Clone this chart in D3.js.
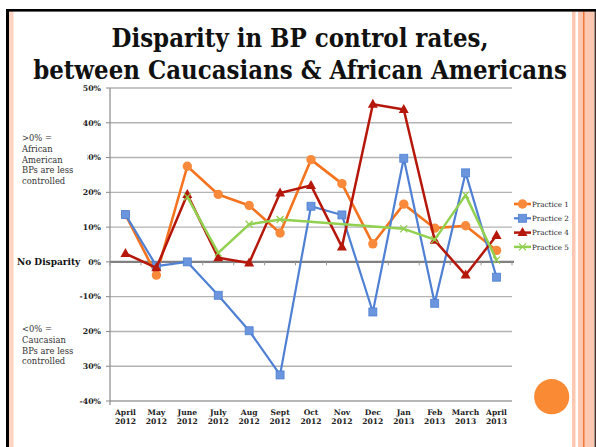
<!DOCTYPE html>
<html>
<head>
<meta charset="utf-8">
<script src="https://cdn.jsdelivr.net/npm/d3@7"></script>
<style>
  html, body { margin: 0; padding: 0; background: #fff; }
  svg { display: block; }
</style>
</head>
<body>
<svg id="chart" width="596" height="447"></svg>
<script>
// Months on the x axis (two-line labels)
const months = ["April 2012", "May 2012", "June 2012", "July 2012", "Aug 2012", "Sept 2012",
                "Oct 2012", "Nov 2012", "Dec 2012", "Jan 2013", "Feb 2013", "March 2013", "April 2013"];

// Disparity (%) per practice; null = no report that month
const practice1 = [13.6, -3.8, 27.5, 19.4, 16.2, 8.3, 29.4, 22.5, 5.2, 16.6, 9.7, 10.4, 3.3];
const practice2 = [13.6, -1.2, 0.0, -9.6, -19.8, -32.5, 16.0, 13.5, -14.4, 29.8, -11.9, 25.6, -4.4];
const practice4 = [2.4, -1.7, 19.4, 1.2, -0.3, 19.8, 22.0, 4.3, 45.3, 43.8, 6.2, -3.8, 7.6];
const practice5 = [null, null, 18.7, 2.6, 10.8, 12.2, null, null, null, 9.5, 6.4, 19.2, 0.5];

const yTicks = [50, 40, 30, 20, 10, 0, -10, -20, -30, -40];
const yTickLabels = ["50%", "40%", "30%", "20%", "10%", "0%", "-10%", "-20%", "-30%", "-40%"];

const seriesNames = ["Practice 1", "Practice 2", "Practice 4", "Practice 5"];

const svg = d3.select("#chart");
const serif = "'DejaVu Serif', 'Liberation Serif', serif";
const serifCond = "'DejaVu Serif Condensed', 'DejaVu Serif', serif";

// ---- slide frame ----
const frame = svg.append("g");
frame.append("rect").attr("x", 9).attr("y", 11).attr("width", 4.5).attr("height", 436).attr("fill", "#fdd3c4");
frame.append("rect").attr("x", 572).attr("y", 11).attr("width", 3.5).attr("height", 436).attr("fill", "#fdc8b2");
frame.append("rect").attr("x", 578).attr("y", 11).attr("width", 16).attr("height", 436).attr("fill", "#fdc8b2");
frame.append("rect").attr("x", 583).attr("y", 11).attr("width", 1.5).attr("height", 436).attr("fill", "#f07a35");
frame.append("rect").attr("x", 594.5).attr("y", 11).attr("width", 1.5).attr("height", 436).attr("fill", "#4a3228");
frame.append("rect").attr("x", 6).attr("y", 9).attr("width", 590).attr("height", 2.6).attr("fill", "#000");
frame.append("rect").attr("x", 6).attr("y", 9).attr("width", 3).attr("height", 438).attr("fill", "#000");

// ---- title: two centred lines, size fitted so the long line spans 534px ----
const titleLines = ["Disparity in BP control rates,", "between Caucasians & African Americans"];
const titleBaselines = [46.5, 78.5];
const title = svg.append("g");
const titleTexts = titleLines.map((line, i) =>
  title.append("text")
    .attr("x", 300).attr("y", titleBaselines[i]).attr("text-anchor", "middle")
    .attr("font-family", serifCond).attr("font-stretch", "condensed")
    .attr("font-weight", "bold").attr("font-size", 24).attr("fill", "#111")
    .text(line));
const titleSize = Math.min(26, 24 * 534 / titleTexts[1].node().getComputedTextLength());
titleTexts.forEach(t => t.attr("font-size", titleSize));

// ---- scales ----
const plot = { left: 110, right: 512, top: 88, bottom: 401 };
const x = d3.scaleBand().domain(months).range([plot.left, plot.right]).padding(0);
const cx = m => x(m) + x.bandwidth() / 2;
const y = d3.scaleLinear().domain([-40, 50]).range([plot.bottom, plot.top]);

// ---- gridlines ----
const grid = svg.append("g");
grid.selectAll("line.g").data(yTicks.filter(v => v !== 0 && v !== -40)).enter().append("line")
  .attr("x1", plot.left).attr("x2", plot.right)
  .attr("y1", d => y(d)).attr("y2", d => y(d))
  .attr("stroke", "#b3b3b3").attr("stroke-width", 1.4);
// y tick marks
grid.selectAll("line.t").data(yTicks).enter().append("line")
  .attr("x1", plot.left - 4).attr("x2", plot.left)
  .attr("y1", d => y(d)).attr("y2", d => y(d))
  .attr("stroke", "#888").attr("stroke-width", 1);
// bottom line at -40%
grid.append("line").attr("x1", plot.left).attr("x2", plot.right)
  .attr("y1", y(-40)).attr("y2", y(-40)).attr("stroke", "#a0a0a0").attr("stroke-width", 1.4);
// y axis line
grid.append("line").attr("x1", plot.left).attr("x2", plot.left)
  .attr("y1", plot.top).attr("y2", plot.bottom + 4).attr("stroke", "#8a8a8a").attr("stroke-width", 1.2);
// zero line with category ticks
grid.append("line").attr("x1", plot.left).attr("x2", plot.right + 2)
  .attr("y1", y(0)).attr("y2", y(0)).attr("stroke", "#808080").attr("stroke-width", 2.4);
grid.selectAll("line.xt").data(months.concat(["end"])).enter().append("line")
  .attr("x1", (d, i) => plot.left + i * x.bandwidth())
  .attr("x2", (d, i) => plot.left + i * x.bandwidth())
  .attr("y1", y(0)).attr("y2", y(0) + 3.5)
  .attr("stroke", "#999").attr("stroke-width", 1);

// ---- y tick labels ----
svg.append("g").selectAll("text").data(yTicks).enter().append("text")
  .attr("x", 101).attr("y", d => y(d) + 2.8)
  .attr("text-anchor", "end").attr("font-family", serif).attr("font-weight", "bold")
  .attr("font-size", 7.8).attr("fill", "#222")
  .text((d, i) => yTickLabels[i]);

// ---- x labels ----
const xl = svg.append("g");
months.forEach(m => {
  const [mo, yr] = m.split(" ");
  const t = xl.append("text").attr("x", cx(m)).attr("y", 414.5).attr("text-anchor", "middle")
    .attr("font-family", serif).attr("font-weight", "bold").attr("font-size", 7.6).attr("fill", "#222");
  t.append("tspan").attr("x", cx(m)).attr("dy", 0).text(mo);
  t.append("tspan").attr("x", cx(m)).attr("dy", 9).text(yr);
});

// ---- side annotations (text boxes) ----
function note(lines, x0, y0, w, h) {
  const g = svg.append("g");
  g.append("rect").attr("x", x0).attr("y", y0).attr("width", w).attr("height", h).attr("fill", "#fff");
  const t = g.append("text").attr("font-family", serif).attr("font-size", 8.4).attr("fill", "#333");
  lines.forEach((l, i) => t.append("tspan").attr("x", 22).attr("y", y0 + 11 + i * 10.8).text(l));
}
note([">0% =", "African", "American", "BPs are less", "controlled"], 18, 130, 69.5, 56);
note(["<0% =", "Caucasian", "BPs are less", "controlled"], 18, 321, 65, 48);

svg.append("text").attr("x", 17).attr("y", y(0) + 3.2)
  .attr("font-family", serif).attr("font-weight", "bold").attr("font-size", 9).attr("fill", "#111")
  .text("No Disparity");

// ---- series ----
const series = [
  { name: seriesNames[0], values: practice1, line: "#f4731f", fill: "#f98a3c", stroke: "#f98a3c", marker: "circle", width: 2.6 },
  { name: seriesNames[1], values: practice2, line: "#4f80d4", fill: "#6b95dc", stroke: "#4f80d4", marker: "square", width: 2.2 },
  { name: seriesNames[2], values: practice4, line: "#b5170b", fill: "#b5170b", stroke: "#b5170b", marker: "triangle", width: 2.5 },
  { name: seriesNames[3], values: practice5, line: "#92d050", fill: "none", stroke: "#92d050", marker: "x", width: 2.5 }
];

function drawMarker(g, type, px, py, s) {
  if (type === "circle") {
    g.append("circle").attr("cx", px).attr("cy", py).attr("r", 4.7).attr("fill", s.fill);
  } else if (type === "square") {
    g.append("rect").attr("x", px - 4).attr("y", py - 4).attr("width", 8).attr("height", 8)
      .attr("fill", s.fill).attr("stroke", s.stroke).attr("stroke-width", 0.8);
  } else if (type === "triangle") {
    g.append("path").attr("d", `M${px},${py - 5.5}L${px + 5},${py + 3.5}L${px - 5},${py + 3.5}Z`).attr("fill", s.fill);
  } else {
    g.append("path").attr("d", `M${px - 3.5},${py - 3.5}L${px + 3.5},${py + 3.5}M${px - 3.5},${py + 3.5}L${px + 3.5},${py - 3.5}`)
      .attr("stroke", s.stroke).attr("stroke-width", 1.3).attr("fill", "none");
  }
}

const lineGen = d3.line().x(d => cx(d.m)).y(d => y(d.v));
series.forEach(s => {
  const pts = months.map((m, i) => ({ m, v: s.values[i] })).filter(d => d.v !== null);
  const g = svg.append("g");
  g.append("path").datum(pts).attr("d", lineGen).attr("fill", "none")
    .attr("stroke", s.line).attr("stroke-width", s.width).attr("stroke-linejoin", "round");
  pts.forEach(d => drawMarker(g, s.marker, cx(d.m), y(d.v), s));
});

// ---- legend ----
const lg = svg.append("g");
series.forEach((s, i) => {
  const ly = 204 + i * 14.3;
  lg.append("line").attr("x1", 514).attr("x2", 531).attr("y1", ly).attr("y2", ly)
    .attr("stroke", s.line).attr("stroke-width", s.width);
  drawMarker(lg, s.marker, 522.5, ly, s);
  lg.append("text").attr("x", 532).attr("y", ly + 2.6).attr("font-family", serif)
    .attr("font-size", 7.2).attr("fill", "#222").text(s.name);
});

// ---- decorative dot ----
svg.append("circle").attr("cx", 551.7).attr("cy", 396.7).attr("r", 17.6).attr("fill", "#fb8a35");
</script>
</body>
</html>
